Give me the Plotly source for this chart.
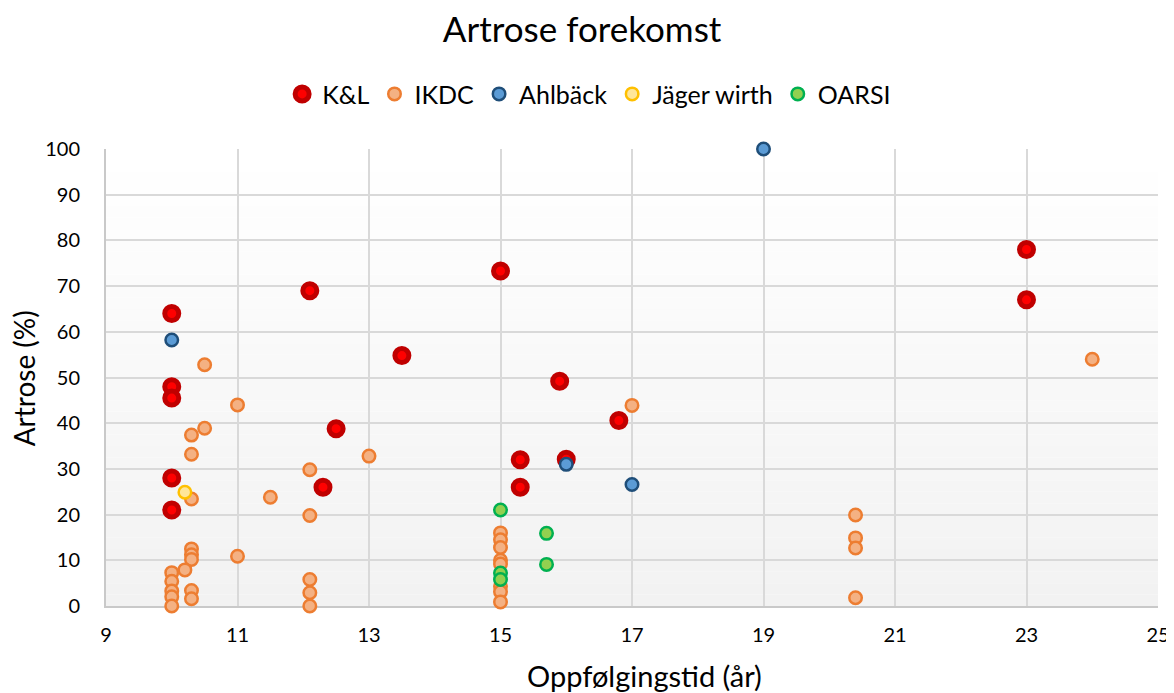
import plotly.graph_objects as go

# ---------------- data ----------------
kl_x = [10, 10, 10, 10, 10, 12.1, 12.3, 12.5, 13.5, 15, 15.3, 15.3, 15.9, 16, 16.8, 23, 23]
kl_y = [64, 48, 45.5, 28, 21, 69, 26, 38.8, 54.8, 73.3, 32, 26, 49.2, 32.1, 40.6, 78, 67]

ikdc_x = [10.5, 11, 10.5, 10.3, 10.3, 10.3, 11.5, 10.3, 10.3, 10.3, 11, 10.2,
          10, 10, 10, 10, 10, 10.3, 10.3,
          12.1, 12.1, 12.1, 12.1, 12.1, 13,
          15, 15, 15, 15, 15, 15, 15, 15,
          17, 24, 20.4, 20.4, 20.4, 20.4]
ikdc_y = [52.8, 44, 38.9, 37.4, 33.2, 23.4, 23.8, 12.5, 11.2, 10.2, 10.9, 7.9,
          7.3, 5.4, 3.3, 2, 0, 3.4, 1.6,
          29.8, 19.8, 5.8, 2.9, 0, 32.8,
          16, 14.5, 12.8, 10, 9.2, 4.3, 3.1, 0.9,
          43.9, 54, 19.9, 14.9, 12.7, 1.8]

ahl_x = [10, 19, 16, 17]
ahl_y = [58.2, 100, 31, 26.6]

jw_x = [10.2]
jw_y = [24.9]

oarsi_x = [15, 15.7, 15.7, 15, 15]
oarsi_y = [21, 15.9, 9.1, 7.2, 5.8]

x_ticks = [9, 11, 13, 15, 17, 19, 21, 23, 25]
y_ticks = [0, 10, 20, 30, 40, 50, 60, 70, 80, 90, 100]

title_text = "Artrose forekomst"
x_title = "Oppfølgingstid (år)"
y_title = "Artrose (%)"

# ---------------- figure ----------------
FONT = "Lato, 'Open Sans', sans-serif"
fig = go.Figure()

def add(name, xs, ys, fill, line, size, lw):
    fig.add_trace(go.Scatter(
        x=xs, y=ys, mode="markers", name=name, cliponaxis=False,
        marker=dict(color=fill, size=size, line=dict(color=line, width=lw)),
    ))

add("K&L", kl_x, kl_y, "#FF0000", "#C00000", 14, 5)
add("IKDC", ikdc_x, ikdc_y, "#F4B183", "#ED7D31", 12.5, 2.5)
add("Ahlbäck", ahl_x, ahl_y, "#5B9BD5", "#1F4E79", 12.5, 2.5)
add("Jäger wirth", jw_x, jw_y, "#FFE699", "#FFC000", 12.5, 2.5)
add("OARSI", oarsi_x, oarsi_y, "#92D050", "#00B050", 12.5, 2.5)

# vertical gradient background (white -> light grey)
shapes = []
n = 40
for i in range(n):
    t = (i + 0.5) / n
    v = int(round(255 - (255 - 242) * (1 - t)))
    shapes.append(dict(type="rect", xref="x domain", yref="y domain",
                       x0=0, x1=1, y0=i / n, y1=(i + 1) / n,
                       fillcolor=f"rgb({v},{v},{v})", line=dict(width=0),
                       layer="below"))

annotations = [
    dict(text=x_title, xref="paper", yref="paper", x=0.512, y=-0.153,
         xanchor="center", yanchor="middle", showarrow=False,
         font=dict(size=29, family=FONT, color="#000000")),
    dict(text=y_title, xref="paper", yref="paper", x=-0.078, y=0.498,
         xanchor="center", yanchor="middle", showarrow=False, textangle=-90,
         font=dict(size=28, family=FONT, color="#000000")),
]

fig.update_layout(
    width=1174, height=693,
    margin=dict(l=98, r=24, t=141, b=95, autoexpand=False),
    paper_bgcolor="white", plot_bgcolor="rgba(0,0,0,0)",
    font=dict(family=FONT, color="#000000"),
    title=dict(text=title_text, x=0.489, xanchor="center", y=0.969, yanchor="middle",
               font=dict(size=35, family=FONT, color="#000000")),
    legend=dict(orientation="h", xref="container", x=0.495, xanchor="center",
                y=1.12, yanchor="middle",
                font=dict(size=25, family=FONT),
                bgcolor="rgba(0,0,0,0)"),
    shapes=shapes,
    annotations=annotations,
    xaxis=dict(range=[9, 25], tickvals=x_ticks, showgrid=True, gridcolor="#D9D9D9",
               gridwidth=1.5, showline=True, linecolor="#C9C9C9", linewidth=2,
               zeroline=False, ticks="", tickfont=dict(size=20, family=FONT),
               ticklabelstandoff=10, automargin=False,
               layer="below traces"),
    yaxis=dict(range=[0, 100], tickvals=y_ticks, showgrid=True, gridcolor="#D9D9D9",
               gridwidth=1.5, showline=True, linecolor="#C9C9C9", linewidth=2,
               zeroline=False, ticks="", tickfont=dict(size=20, family=FONT),
               ticklabelstandoff=20, automargin=False,
               layer="below traces"),
)

fig.write_html("out.html")
